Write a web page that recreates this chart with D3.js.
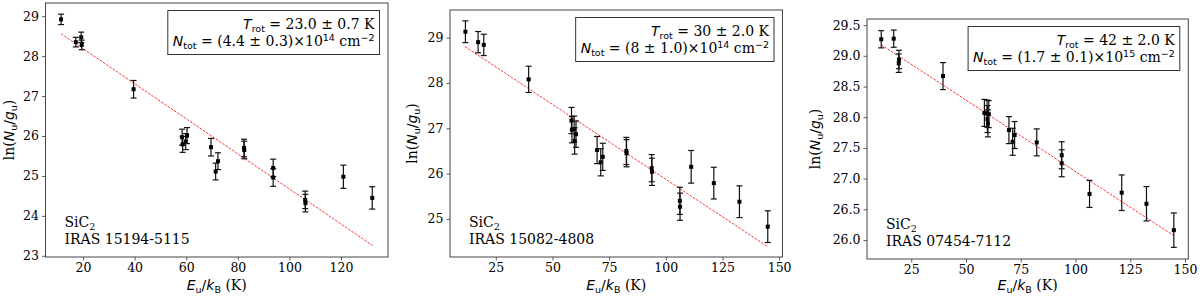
<!DOCTYPE html>
<html>
<head>
<meta charset="utf-8">
<script src="https://cdn.jsdelivr.net/npm/d3@7"></script>
<style>
  body { margin: 0; background: #fff; }
  svg { display: block; }
  text { font-family: "DejaVu Serif", serif; fill: #000; }
  .math { font-family: "DejaVu Sans", sans-serif; }
</style>
</head>
<body>
<div id="chart"></div>
<script>
// panel 1 : IRAS 15194-5115
const energies1 = [11.5, 17.2, 19.3, 19.5, 39.6, 58.4, 58.6, 59.8, 60.3, 69.6, 71.4, 72.3, 82.4, 82.5, 93.7, 93.7, 106.1, 106.2, 120.9, 132.1];
const lnN1 = [28.92, 28.35, 28.47, 28.28, 27.17, 25.97, 25.79, 25.86, 26.01, 25.72, 25.11, 25.37, 25.70, 25.65, 25.20, 24.96, 24.40, 24.32, 24.98, 24.45];
const err1 = [0.13, 0.12, 0.13, 0.12, 0.22, 0.20, 0.20, 0.20, 0.20, 0.22, 0.21, 0.21, 0.22, 0.22, 0.22, 0.22, 0.22, 0.22, 0.29, 0.28];
const fitX1 = [11.5, 132.2];
const fitY1 = [28.56, 23.26];
const xTicks1 = [20, 40, 60, 80, 100, 120];
const yTicks1 = [23, 24, 25, 26, 27, 28, 29];

// panel 2 : IRAS 15082-4808
const energies2 = [11.6, 17.2, 19.7, 39.5, 58.4, 58.6, 59.6, 59.8, 60.4, 69.7, 71.3, 72.2, 82.6, 82.7, 93.8, 93.9, 106.2, 106.3, 111.2, 121.2, 132.5, 145.0];
const lnN2 = [29.13, 28.90, 28.84, 28.08, 27.17, 26.97, 26.98, 26.72, 26.87, 26.52, 26.25, 26.37, 26.50, 26.45, 26.12, 26.04, 25.40, 25.27, 26.15, 25.79, 25.38, 24.83];
const err2 = [0.24, 0.235, 0.235, 0.29, 0.29, 0.29, 0.29, 0.29, 0.29, 0.30, 0.30, 0.30, 0.30, 0.30, 0.30, 0.30, 0.30, 0.30, 0.36, 0.35, 0.35, 0.35];
const fitX2 = [11.5, 144.9];
const fitY2 = [28.80, 24.39];
const xTicks2 = [25, 50, 75, 100, 125, 150];
const yTicks2 = [25, 26, 27, 28, 29];

// panel 3 : IRAS 07454-7112
const energies3 = [11.3, 17.0, 19.3, 19.4, 39.5, 58.4, 59.6, 59.8, 60.0, 60.4, 69.6, 71.3, 72.2, 82.3, 93.7, 93.7, 106.4, 121.1, 132.4, 144.9];
const lnN3 = [29.27, 29.28, 28.88, 28.94, 28.67, 28.07, 28.06, 27.97, 27.90, 28.05, 27.79, 27.60, 27.71, 27.59, 27.38, 27.25, 26.75, 26.77, 26.59, 26.16];
const err3 = [0.14, 0.14, 0.15, 0.15, 0.22, 0.22, 0.22, 0.22, 0.22, 0.22, 0.22, 0.22, 0.22, 0.22, 0.22, 0.22, 0.22, 0.29, 0.28, 0.28];
const fitX3 = [11.3, 144.9];
const fitY3 = [29.18, 26.07];
const xTicks3 = [25, 50, 75, 100, 125, 150];
const yTicks3 = [26.0, 26.5, 27.0, 27.5, 28.0, 28.5, 29.0, 29.5];

const trotTexts = ["23.0 ± 0.7 K", "30 ± 2.0 K", "42 ± 2.0 K"];
const ntotMant = ["(4.4 ± 0.3)", "(8 ± 1.0)", "(1.7 ± 0.1)"];
const ntotExp = ["14", "14", "15"];
const sources = ["IRAS 15194-5115", "IRAS 15082-4808", "IRAS 07454-7112"];

const width = 1200, height = 297;
const svg = d3.select('#chart').append('svg')
  .attr('width', width).attr('height', height);

const panels = [
  {x: energies1, y: lnN1, e: err1, fx: fitX1, fy: fitY1, xt: xTicks1, yt: yTicks1, yfmt: d3.format('d'),
   xdom: [5.46, 138.2], ydom: [22.97, 29.33], left: 45.5, right: 388, top: 3, bottom: 257, ylabX: 9},
  {x: energies2, y: lnN2, e: err2, fx: fitX2, fy: fitY2, xt: xTicks2, yt: yTicks2, yfmt: d3.format('d'),
   xdom: [4.8, 151.5], ydom: [24.16, 29.61], left: 450, right: 782.5, top: 10, bottom: 257, ylabX: 412},
  {x: energies3, y: lnN3, e: err3, fx: fitX3, fy: fitY3, xt: xTicks3, yt: yTicks3, yfmt: d3.format('.1f'),
   xdom: [4.8, 151.5], ydom: [25.69, 29.6], left: 867, right: 1188.3, top: 19, bottom: 259, ylabX: 815}
];

panels.forEach((p, i) => drawPanel(p, i));

function drawPanel(p, i) {
  const x = d3.scaleLinear().domain(p.xdom).range([p.left, p.right]);
  const y = d3.scaleLinear().domain(p.ydom).range([p.bottom, p.top]);
  const g = svg.append('g');

  // axes
  const xAxis = g.append('g').attr('transform', `translate(0,${p.bottom})`)
    .call(d3.axisBottom(x).tickValues(p.xt).tickSizeOuter(0).tickSize(3.5).tickPadding(3));
  const yAxis = g.append('g').attr('transform', `translate(${p.left},0)`)
    .call(d3.axisLeft(y).tickValues(p.yt).tickFormat(p.yfmt).tickSizeOuter(0).tickSize(3.5).tickPadding(3));
  [xAxis, yAxis].forEach(a => {
    a.select('.domain').remove();
    a.selectAll('line').attr('stroke', '#333').attr('stroke-width', 0.8);
    a.selectAll('text').style('font-family', '"DejaVu Serif", serif').style('font-size', '12.5px').attr('fill', '#000');
  });

  // frame
  g.append('rect')
    .attr('x', p.left).attr('y', p.top)
    .attr('width', p.right - p.left).attr('height', p.bottom - p.top)
    .attr('fill', 'none').attr('stroke', '#444').attr('stroke-width', 1);

  // fit line
  const fit = p.fx.map((d, k) => [d, p.fy[k]]);
  g.append('path')
    .attr('d', d3.line().x(d => x(d[0])).y(d => y(d[1]))(fit))
    .attr('fill', 'none').attr('stroke', '#ff2020').attr('stroke-width', 0.9)
    .attr('stroke-dasharray', '2.6,1.3');

  // error bars
  const pts = p.x.map((d, k) => ({ex: d, ln: p.y[k], err: p.e[k]}));
  const eb = g.append('g').selectAll('g').data(pts).enter().append('g');
  eb.append('line')
    .attr('x1', d => x(d.ex)).attr('x2', d => x(d.ex))
    .attr('y1', d => y(d.ln - d.err)).attr('y2', d => y(d.ln + d.err))
    .attr('stroke', '#111').attr('stroke-width', 1.2);
  [-1, 1].forEach(s => {
    eb.append('line')
      .attr('x1', d => x(d.ex) - 3).attr('x2', d => x(d.ex) + 3)
      .attr('y1', d => y(d.ln + s * d.err)).attr('y2', d => y(d.ln + s * d.err))
      .attr('stroke', '#111').attr('stroke-width', 1.2);
  });
  eb.append('rect')
    .attr('x', d => x(d.ex) - 2).attr('y', d => y(d.ln) - 2)
    .attr('width', 4).attr('height', 4).attr('fill', '#000');

  // x label
  const xl = g.append('text')
    .attr('x', (p.left + p.right) / 2).attr('y', 290)
    .attr('text-anchor', 'middle').style('font-size', '14px');
  xl.append('tspan').attr('class', 'math').style('font-style', 'italic').text('E');
  xl.append('tspan').attr('class', 'math').style('font-size', '9.5px').attr('dy', 2.5).text('u');
  xl.append('tspan').attr('class', 'math').attr('dy', -2.5).text('/');
  xl.append('tspan').attr('class', 'math').style('font-style', 'italic').text('k');
  xl.append('tspan').attr('class', 'math').style('font-size', '9.5px').attr('dy', 2.5).text('B');
  xl.append('tspan').attr('dy', -2.5).text(' (K)');

  // y label
  const yl = g.append('text')
    .attr('transform', `translate(${p.ylabX + 5},${(p.top + p.bottom) / 2}) rotate(-90)`)
    .attr('text-anchor', 'middle').style('font-size', '14px');
  yl.append('tspan').text('ln(');
  yl.append('tspan').attr('class', 'math').style('font-style', 'italic').text('N');
  yl.append('tspan').attr('class', 'math').style('font-size', '9.5px').attr('dy', 3).text('u');
  yl.append('tspan').attr('class', 'math').attr('dy', -3).text('/');
  yl.append('tspan').attr('class', 'math').style('font-style', 'italic').text('g');
  yl.append('tspan').attr('class', 'math').style('font-size', '9.5px').attr('dy', 3).text('u');
  yl.append('tspan').attr('dy', -3).text(')');

  // legend box with fit results
  const boxRight = p.right - 8.5, boxTop = p.top + 7.5;
  const lg = g.append('g');
  const t1 = lg.append('text').attr('x', boxRight - 5).attr('y', boxTop + 18)
    .attr('text-anchor', 'end').style('font-size', '14px');
  t1.append('tspan').attr('class', 'math').style('font-style', 'italic').text('T');
  t1.append('tspan').attr('class', 'math').style('font-size', '9.5px').attr('dy', 3).text('rot');
  t1.append('tspan').attr('dy', -3).text(' = ' + trotTexts[i]);
  const t2 = lg.append('text').attr('x', boxRight - 5).attr('y', boxTop + 35)
    .attr('text-anchor', 'end').style('font-size', '14px');
  t2.append('tspan').attr('class', 'math').style('font-style', 'italic').text('N');
  t2.append('tspan').attr('class', 'math').style('font-size', '9.5px').attr('dy', 3).text('tot');
  t2.append('tspan').attr('dy', -3).text(' = ' + ntotMant[i] + '×10');
  t2.append('tspan').attr('class', 'math').style('font-size', '9.5px').attr('dy', -5).text(ntotExp[i]);
  t2.append('tspan').attr('dy', 5).text(' cm');
  t2.append('tspan').attr('class', 'math').style('font-size', '9.5px').attr('dy', -5).text('−2');
  const w = Math.max(t1.node().getComputedTextLength(), t2.node().getComputedTextLength());
  lg.insert('rect', 'text')
    .attr('x', boxRight - w - 10).attr('y', boxTop)
    .attr('width', w + 10).attr('height', 44)
    .attr('fill', '#fff').attr('stroke', '#333').attr('stroke-width', 1);

  // source label
  const s1 = g.append('text').attr('x', p.left + 19).attr('y', p.bottom - 30).style('font-size', '14px');
  s1.append('tspan').text('SiC');
  s1.append('tspan').style('font-size', '9.5px').attr('dy', 3).text('2');
  g.append('text').attr('x', p.left + 19).attr('y', p.bottom - 13).style('font-size', '14px')
    .text(sources[i]);
}
</script>
</body>
</html>
